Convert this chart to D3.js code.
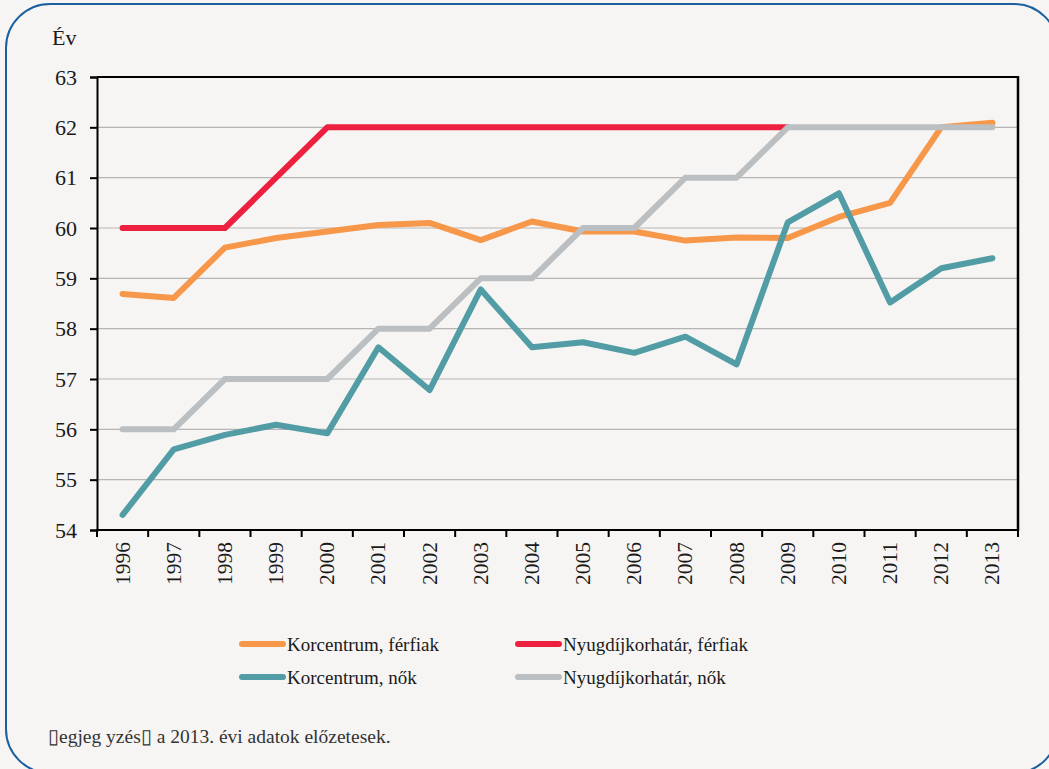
<!DOCTYPE html>
<html><head><meta charset="utf-8">
<script src="https://cdn.jsdelivr.net/npm/d3@7"></script>
<style>
html,body{margin:0;padding:0;background:#F6F5F3;}
svg{display:block;}
svg text{font-family:"Liberation Serif","Times New Roman",serif !important;}
</style></head>
<body>
<svg id="c" width="1049" height="769"></svg>
<script>
const years = ["1996","1997","1998","1999","2000","2001","2002","2003","2004","2005","2006","2007","2008","2009","2010","2011","2012","2013"];
const korFerfi = [58.69,58.61,59.61,59.8,59.93,60.06,60.1,59.76,60.13,59.93,59.93,59.75,59.81,59.8,60.22,60.5,62.0,62.09];
const nyugFerfi = [60,60,60,61,62,62,62,62,62,62,62,62,62,62,null,null,null,null];
const korNok = [54.3,55.6,55.89,56.09,55.92,57.63,56.78,58.78,57.63,57.73,57.52,57.84,57.29,60.11,60.69,58.52,59.2,59.4];
const nyugNok = [56,56,57,57,57,58,58,59,59,60,60,61,61,62,62,62,62,62];
const yTicks = [54,55,56,57,58,59,60,61,62,63];
const seriesNames = ["Korcentrum, férfiak","Nyugdíjkorhatár, férfiak","Korcentrum, nők","Nyugdíjkorhatár, nők"];
const seriesColors = ["#F7974A","#EE2040","#529DA5","#BCBFC2"];
const yLabel = "Év";
const note = "\u25AFegjeg yzés\u25AF a 2013. évi adatok előzetesek.";

const series = [korFerfi, nyugFerfi, korNok, nyugNok];
const font = "Liberation Serif, Times New Roman, serif";
const svg = d3.select("#c");

// border
svg.append("rect").attr("x",6).attr("y",4).attr("width",1052).attr("height",769)
  .attr("rx",44).attr("ry",44).attr("fill","#F6F5F3").attr("stroke","#1A5FA0").attr("stroke-width",2);

const L=97, R=1018, T=77, B=530;
const x = d3.scaleBand().domain(years).range([L,R]).padding(0);
const y = d3.scaleLinear().domain([54,63]).range([B,T]);

// gridlines
svg.append("g").selectAll("line").data(yTicks.filter(v=>v>54&&v<63)).join("line")
  .attr("x1",L).attr("x2",R).attr("y1",d=>y(d)).attr("y2",d=>y(d))
  .attr("stroke","#B5B5B5").attr("stroke-width",1.2);

// y axis
const ya = svg.append("g").attr("transform",`translate(${L},0)`)
  .call(d3.axisLeft(y).tickValues(yTicks).tickSize(7).tickPadding(13).tickFormat(d3.format("d")));
ya.attr("font-family",font);
ya.select(".domain").attr("stroke","#000").attr("stroke-width",2);
ya.selectAll(".tick line").attr("stroke","#000").attr("stroke-width",2);
ya.selectAll("text").style("font-family",font).attr("font-size",22).attr("fill","#1a1a1a");

// x axis
const xa = svg.append("g").attr("transform",`translate(0,${B})`)
  .call(d3.axisBottom(x).tickSize(0).tickPadding(0));
xa.attr("font-family",font);
xa.select(".domain").remove();
xa.selectAll(".tick text").style("font-family",font).attr("font-size",21.5).attr("fill","#1a1a1a")
  .attr("text-anchor","end").attr("dy",null).attr("y",0)
  .attr("transform","translate(7,12) rotate(-90)");
// band boundary ticks
const bounds = years.map(d=>x(d)).concat([R]);
svg.append("g").selectAll("line").data(bounds).join("line")
  .attr("x1",d=>d).attr("x2",d=>d).attr("y1",B).attr("y2",B+7)
  .attr("stroke","#000").attr("stroke-width",2);

// frame
svg.append("line").attr("x1",L-1).attr("x2",R+1).attr("y1",B).attr("y2",B).attr("stroke","#000").attr("stroke-width",2);
svg.append("line").attr("x1",L).attr("x2",R+1).attr("y1",T).attr("y2",T).attr("stroke","#000").attr("stroke-width",2);
svg.append("line").attr("x1",R).attr("x2",R).attr("y1",T-1).attr("y2",B+1).attr("stroke","#000").attr("stroke-width",2.5);

// lines
const line = d3.line().defined(d=>d.v!=null).x(d=>x(d.k)+x.bandwidth()/2).y(d=>y(d.v));
series.forEach((s,i)=>{
  svg.append("path").datum(years.map((k,j)=>({k,v:s[j]})))
    .attr("d",line).attr("fill","none").attr("stroke",seriesColors[i])
    .attr("stroke-width",6).attr("stroke-linecap","round").attr("stroke-linejoin","round");
});

// y label
svg.append("text").attr("x",52).attr("y",45).text(yLabel)
  .style("font-family",font).attr("font-size",22).attr("fill","#1a1a1a");

// legend
const lx=[240,516], ly=[644,677];
seriesNames.forEach((n,i)=>{
  const cx = lx[i%2], cy = ly[Math.floor(i/2)];
  svg.append("line").attr("x1",cx+2).attr("x2",cx+43).attr("y1",cy).attr("y2",cy)
    .attr("stroke",seriesColors[i]).attr("stroke-width",6).attr("stroke-linecap","round");
  svg.append("text").attr("x",cx+47).attr("y",cy+7).text(n)
    .style("font-family",font).attr("font-size",19).attr("fill","#1a1a1a");
});

// note
svg.append("text").attr("x",48).attr("y",743).text(note)
  .style("font-family",font).attr("font-size",19.5).attr("fill","#333");
</script>
</body></html>
